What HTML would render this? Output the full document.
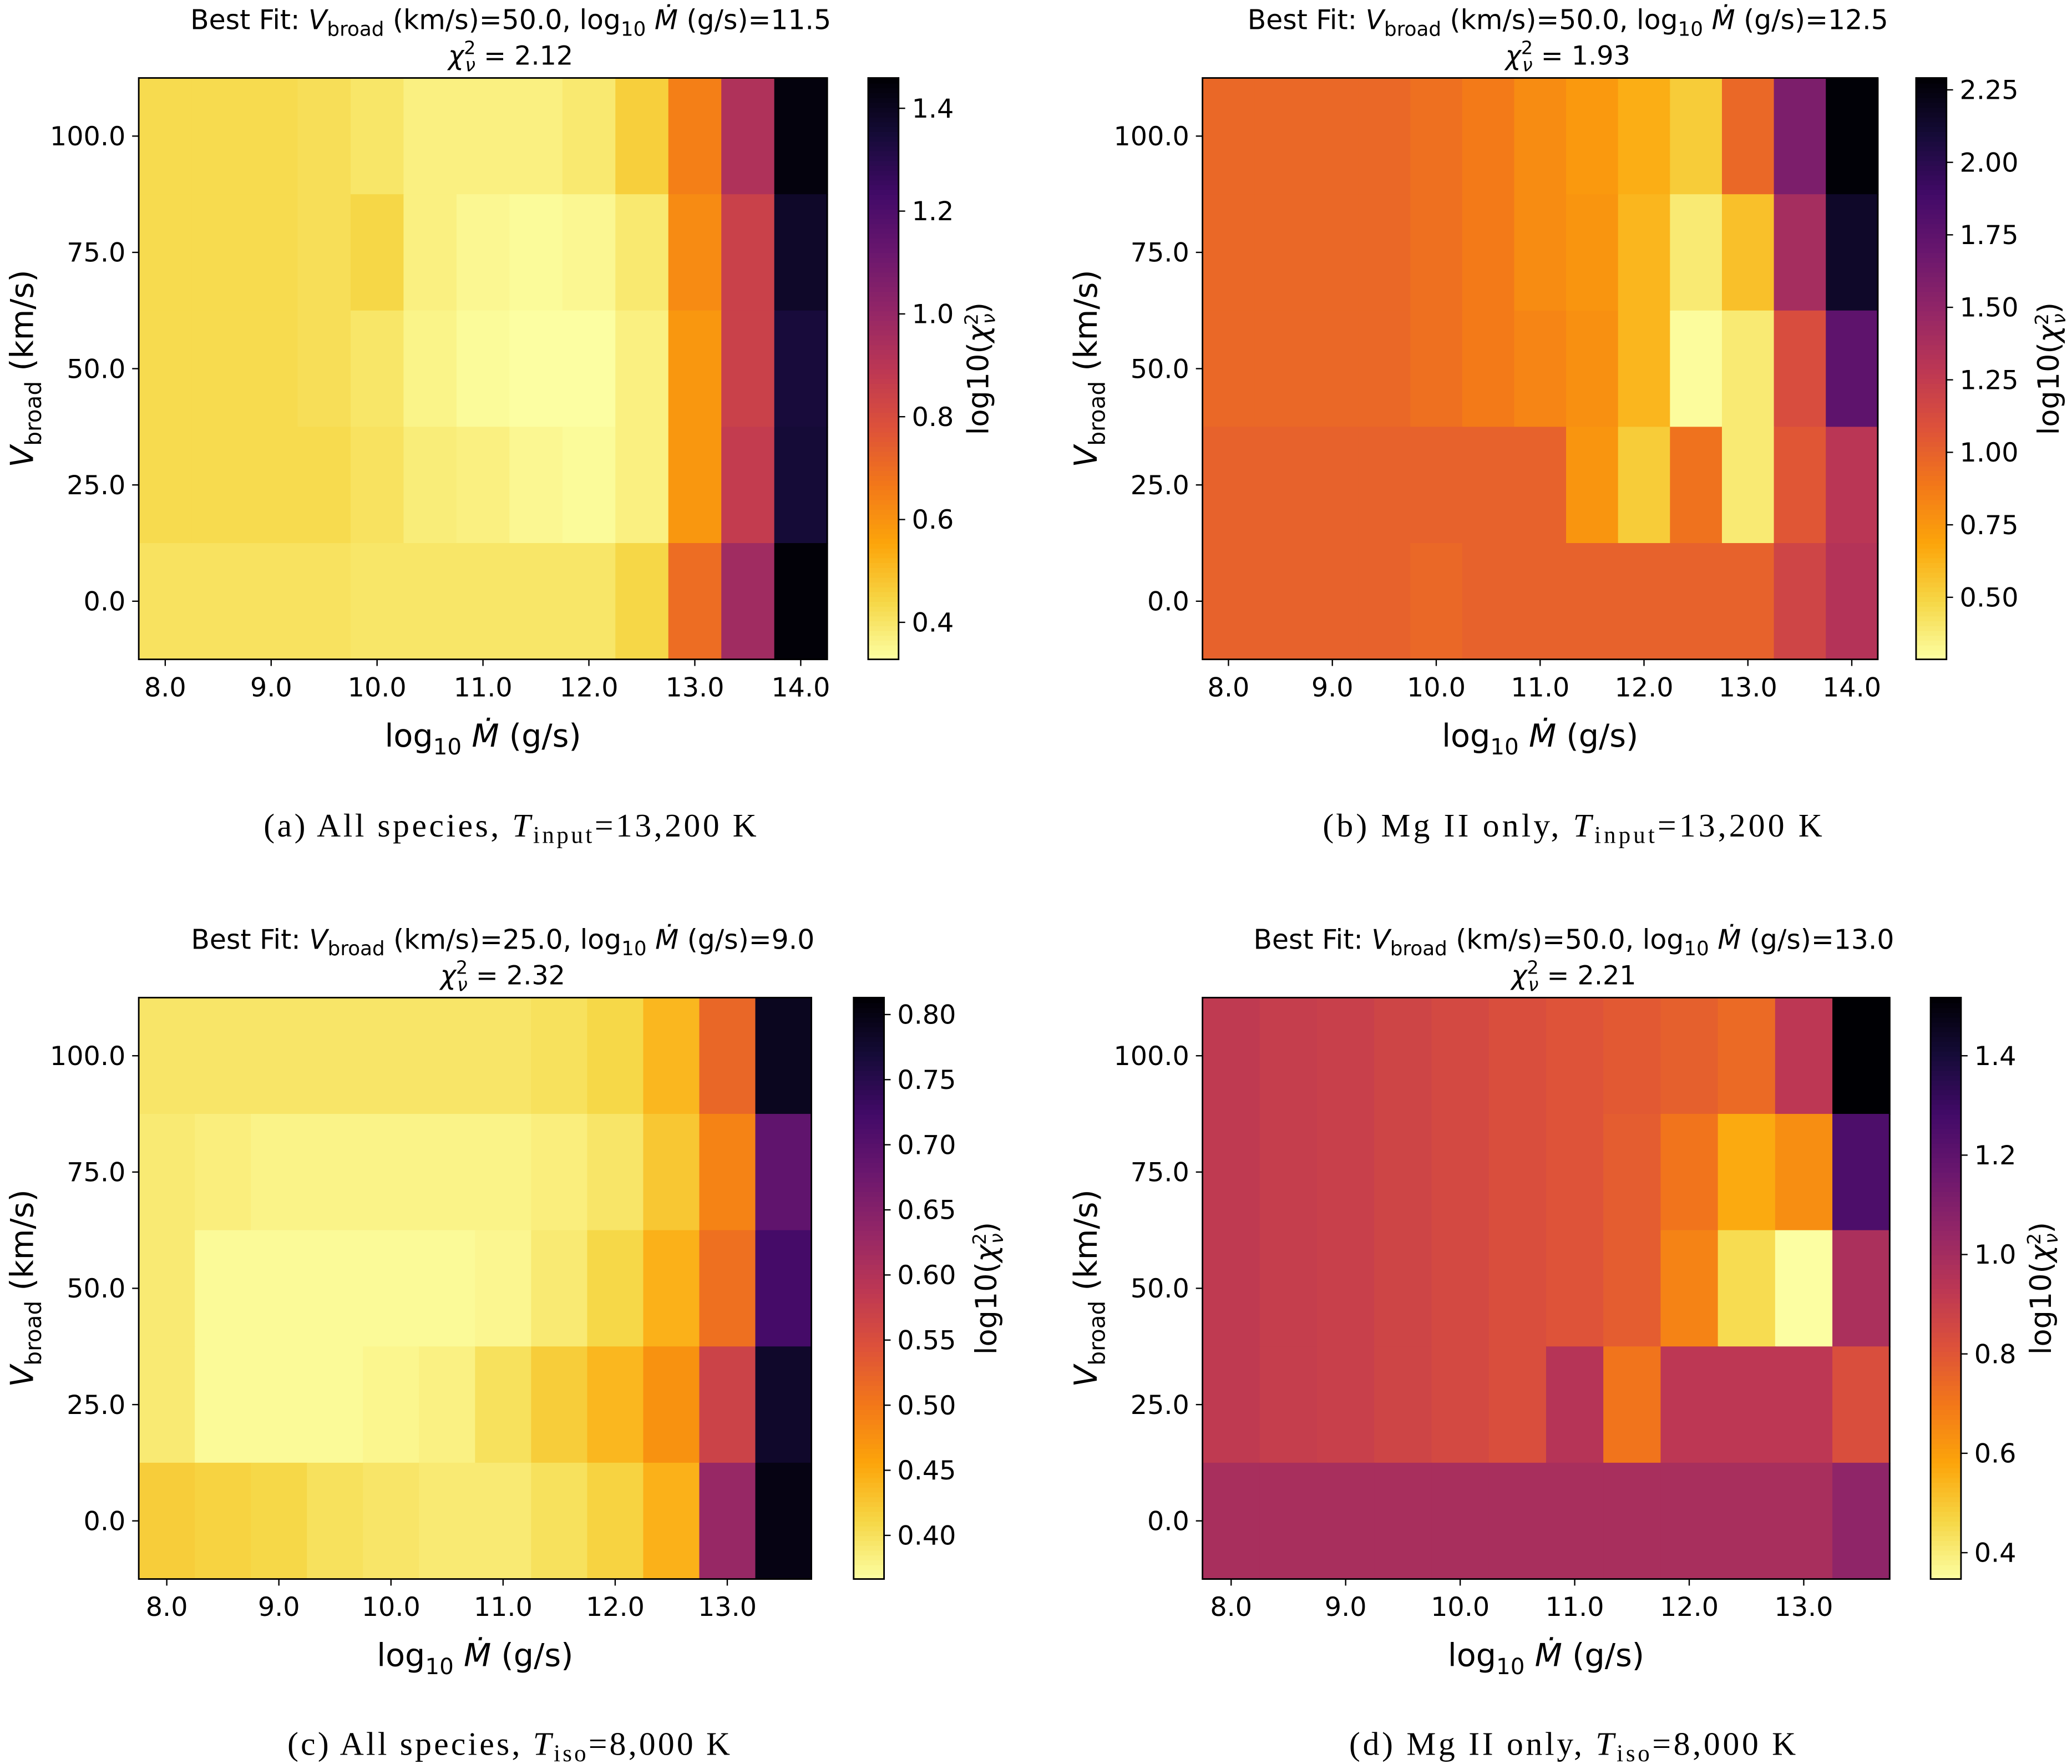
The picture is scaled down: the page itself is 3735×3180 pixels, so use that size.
<!DOCTYPE html>
<html><head><meta charset="utf-8"><style>
html,body{margin:0;padding:0;background:#fff}
svg{display:block}
</style></head><body>
<svg id="fig" xmlns="http://www.w3.org/2000/svg" width="3735" height="3180" viewBox="0 0 1568 1335" preserveAspectRatio="none" font-family="DejaVu Sans, Liberation Sans, sans-serif"></svg>
<script>
// Data
const rowLabelsV = [0, 25, 50, 75, 100];
const colsA = [8.0,8.5,9.0,9.5,10.0,10.5,11.0,11.5,12.0,12.5,13.0,13.5,14.0];
const colsC = [8.0,8.5,9.0,9.5,10.0,10.5,11.0,11.5,12.0,12.5,13.0,13.5];
// values listed top row (100) to bottom row (0)
const valsA = [
 [0.43,0.43,0.43,0.42,0.40,0.37,0.37,0.37,0.39,0.46,0.65,0.93,1.44],
 [0.43,0.43,0.43,0.42,0.44,0.37,0.35,0.34,0.35,0.39,0.62,0.85,1.38],
 [0.43,0.43,0.43,0.42,0.40,0.36,0.34,0.33,0.33,0.37,0.59,0.85,1.34],
 [0.43,0.43,0.43,0.43,0.41,0.38,0.37,0.35,0.34,0.37,0.59,0.87,1.35],
 [0.41,0.41,0.41,0.41,0.40,0.40,0.40,0.40,0.40,0.44,0.70,0.97,1.45]];
const valsB = [
 [0.97,0.97,0.97,0.97,0.93,0.88,0.80,0.74,0.65,0.53,0.97,1.60,2.28],
 [0.97,0.97,0.97,0.97,0.93,0.88,0.80,0.76,0.62,0.39,0.58,1.40,2.15],
 [0.97,0.97,0.97,0.97,0.93,0.88,0.83,0.78,0.62,0.30,0.39,1.12,1.75],
 [1.00,1.00,1.00,1.00,1.00,1.00,1.00,0.76,0.53,0.92,0.39,1.06,1.30],
 [1.00,1.00,1.00,1.00,0.97,1.00,1.00,1.00,1.00,1.00,1.00,1.18,1.33]];
const valsC = [
 [0.395,0.395,0.395,0.395,0.395,0.395,0.395,0.40,0.41,0.44,0.52,0.79],
 [0.39,0.385,0.38,0.38,0.38,0.38,0.38,0.385,0.395,0.425,0.49,0.69],
 [0.39,0.372,0.372,0.372,0.372,0.372,0.376,0.39,0.41,0.445,0.51,0.72],
 [0.39,0.372,0.372,0.372,0.377,0.382,0.40,0.42,0.44,0.475,0.57,0.78],
 [0.42,0.415,0.41,0.40,0.395,0.39,0.39,0.40,0.415,0.445,0.63,0.80]];
const valsD = [
 [0.92,0.90,0.89,0.87,0.85,0.83,0.81,0.79,0.77,0.74,0.93,1.52],
 [0.92,0.90,0.89,0.87,0.85,0.83,0.81,0.78,0.71,0.57,0.64,1.25],
 [0.92,0.90,0.89,0.87,0.85,0.83,0.81,0.78,0.67,0.45,0.35,0.98],
 [0.92,0.90,0.89,0.87,0.85,0.83,0.95,0.71,0.93,0.93,0.93,0.83],
 [0.99,0.99,0.99,0.99,0.99,0.99,0.99,0.99,0.99,0.99,0.99,1.06]];
const cbTicksA = [0.4,0.6,0.8,1.0,1.2,1.4];
const cbTicksB = [0.50,0.75,1.00,1.25,1.50,1.75,2.00,2.25];
const cbTicksC = [0.40,0.45,0.50,0.55,0.60,0.65,0.70,0.75,0.80];
const cbTicksD = [0.4,0.6,0.8,1.0,1.2,1.4];
const xTickVals = [8.0,9.0,10.0,11.0,12.0,13.0,14.0];

const inf = ["#000004","#160b39","#420a68","#6a176e","#932667","#bc3754","#dd513a","#f37819","#fca50a","#f6d746","#fcffa4"];
function hx(c){return [1,3,5].map(i=>parseInt(c.substr(i,2),16));}
function cmap(t){ // inferno_r
  t=Math.max(0,Math.min(1,1-t)); const p=t*10; const i=Math.min(9,Math.floor(p)); const f=p-i;
  const a=hx(inf[i]), b=hx(inf[i+1]);
  return "rgb("+a.map((v,k)=>Math.round(v+(b[k]-v)*f)).join(",")+")";
}
const NS="http://www.w3.org/2000/svg";
const svg=document.getElementById("fig");
function el(tag,attrs,parent,text){const e=document.createElementNS(NS,tag);for(const k in attrs)e.setAttribute(k,attrs[k]);if(text!==undefined)e.innerHTML=text;(parent||svg).appendChild(e);return e;}

function panel(cfg){
  const g=el("g",{});
  
  
  const {x0,x1,y0,y1,cols,vals,vmin,vmax}=cfg;
  const cw=(x1-x0)/cols.length, rh=(y1-y0)/rowLabelsV.length;
  const xPos=v=>x0+cw*((v-cols[0])/0.5+0.5);
  const yPos=v=>y1-rh*(rowLabelsV.indexOf(v)+0.5);
  vals.forEach((row,ri)=>{
    const vr=rowLabelsV[rowLabelsV.length-1-ri];
    row.forEach((v,ci)=>{
      const r=el("rect",{x:(xPos(cols[ci])-cw/2).toFixed(2),y:(yPos(vr)-rh/2).toFixed(2),width:(cw+0.6).toFixed(2),height:(rh+0.6).toFixed(2),fill:cmap((v-vmin)/(vmax-vmin))},g);
      
      
    });
  });
  el("rect",{x:x0,y:y0,width:x1-x0,height:y1-y0,fill:"none",stroke:"#000","stroke-width":1.2},g);
  xTickVals.filter(v=>v<=cols[cols.length-1]).forEach(v=>{
    const x=xPos(v);
    el("line",{x1:x,x2:x,y1:y1,y2:y1+5,stroke:"#000","stroke-width":1},g);
    const t=el("text",{x:x,y:y1+28,"text-anchor":"middle","font-size":20},g,v.toFixed(1));
    
    
  });
  rowLabelsV.forEach(v=>{
    const y=yPos(v);
    el("line",{x1:x0-5,x2:x0,y1:y,y2:y,stroke:"#000","stroke-width":1},g);
    const t=el("text",{x:x0-10,y:y+7,"text-anchor":"end","font-size":20},g,v.toFixed(1));
    
    
  });
  const cx=(x0+x1)/2, cy=(y0+y1)/2;
  const xl=el("text",{x:cx,y:y1+66,"text-anchor":"middle","font-size":24},g,'log<tspan font-size="17" dy="6">10</tspan><tspan dy="-6" font-style="italic"> Ṁ</tspan> (g/s)');
  
  
  const yl=el("text",{x:0,y:0,"text-anchor":"middle","font-size":24,transform:`translate(${x0-80},${cy}) rotate(-90)`},g,'<tspan font-style="italic">V</tspan><tspan font-size="17" dy="6">broad</tspan><tspan dy="-6"> (km/s)</tspan>');
  
  
  const tx=cx+21;
  const tt=el("text",{x:tx,y:y0-37,"text-anchor":"middle","font-size":20.5},g,'Best Fit: <tspan font-style="italic">V</tspan><tspan font-size="15" dy="5">broad</tspan><tspan dy="-5"> (km/s)=</tspan>'+cfg.bv+', log<tspan font-size="15" dy="5">10</tspan><tspan dy="-5" font-style="italic"> Ṁ</tspan> (g/s)='+cfg.bm);
  
  
  const t2=el("text",{x:tx,y:y0-10,"text-anchor":"middle","font-size":20},g,'<tspan font-style="italic">χ</tspan><tspan font-size="14" dy="-8">2</tspan><tspan font-size="14" dx="-8" dy="13" font-style="italic">ν</tspan><tspan dy="-5"> = '+cfg.chi+'</tspan>');
  
  
  const cb=el("g",{},g);
  
  
  const N=120, bx=cfg.cbx, bw=23, h=y1-y0;
  for(let i=0;i<N;i++){
    el("rect",{x:bx,y:(y1-(i+1)*h/N).toFixed(2),width:bw,height:(h/N+0.5).toFixed(2),fill:cmap((i+0.5)/N)},cb);
  }
  el("rect",{x:bx,y:y0,width:bw,height:h,fill:"none",stroke:"#000","stroke-width":1.2},cb);
  const cbY=v=>y1-(v-vmin)/(vmax-vmin)*h;
  cfg.ticks.forEach(v=>{
    const y=cbY(v);
    el("line",{x1:bx+bw,x2:bx+bw+5,y1:y,y2:y,stroke:"#000","stroke-width":1},cb);
    const t=el("text",{x:bx+bw+10,y:y+7,"font-size":20},cb,v.toFixed(cfg.dec));
    
    
  });
  const cl=el("text",{x:0,y:0,"text-anchor":"middle","font-size":22,transform:`translate(${bx+bw+cfg.cblo},${cy}) rotate(-90)`},cb,'log10(<tspan font-style="italic">χ</tspan><tspan font-size="14" dy="-8">2</tspan><tspan font-size="14" dx="-8" dy="13" font-style="italic">ν</tspan><tspan dy="-5">)</tspan>');
  
  
  const cap=el("text",{x:cfg.capx,y:cfg.capy,"text-anchor":"middle","font-size":25,"font-family":"Liberation Serif, serif",textLength:cfg.capw,lengthAdjust:"spacing"},g,cfg.cap);
  
  
}
panel({name:"panel-a",x0:105,x1:626,y0:59,y1:499,cols:colsA,vals:valsA,vmin:0.328,vmax:1.459,ticks:cbTicksA,dec:1,cbx:657,cblo:68,bv:"50.0",bm:"11.5",chi:"2.12",capx:386,capy:633,capw:373,cap:'(a) All species, <tspan font-style="italic">T</tspan><tspan font-size="18" dy="5">input</tspan><tspan dy="-5">=13,200 K</tspan>'});
panel({name:"panel-b",x0:910,x1:1421,y0:59,y1:499,cols:colsA,vals:valsB,vmin:0.286,vmax:2.291,ticks:cbTicksB,dec:2,cbx:1450,cblo:85,bv:"50.0",bm:"12.5",chi:"1.93",capx:1190,capy:633,capw:378,cap:'(b) Mg II only, <tspan font-style="italic">T</tspan><tspan font-size="18" dy="5">input</tspan><tspan dy="-5">=13,200 K</tspan>'});
panel({name:"panel-c",x0:105,x1:614,y0:755,y1:1195,cols:colsC,vals:valsC,vmin:0.3665,vmax:0.813,ticks:cbTicksC,dec:2,cbx:646,cblo:85,bv:"25.0",bm:"9.0",chi:"2.32",capx:385,capy:1328,capw:335,cap:'(c) All species, <tspan font-style="italic">T</tspan><tspan font-size="18" dy="5">iso</tspan><tspan dy="-5">=8,000 K</tspan>'});
panel({name:"panel-d",x0:910,x1:1430,y0:755,y1:1195,cols:colsC,vals:valsD,vmin:0.347,vmax:1.517,ticks:cbTicksD,dec:1,cbx:1461,cblo:68,bv:"50.0",bm:"13.0",chi:"2.21",capx:1190,capy:1328,capw:338,cap:'(d) Mg II only, <tspan font-style="italic">T</tspan><tspan font-size="18" dy="5">iso</tspan><tspan dy="-5">=8,000 K</tspan>'});
</script>
</body></html>
